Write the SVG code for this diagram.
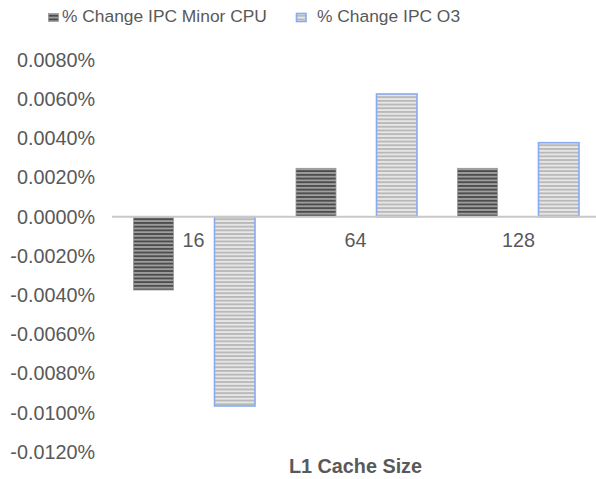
<svg xmlns="http://www.w3.org/2000/svg" width="596" height="479" viewBox="0 0 596 479">
  <defs>
    <!-- narrow horizontal stripes for the two series -->
    <pattern id="stripeDark" patternUnits="userSpaceOnUse" width="8" height="3.7">
      <rect width="8" height="3.7" fill="#a0a0a0"/>
      <rect width="8" height="1.9" fill="#4d4d4d"/>
    </pattern>
    <pattern id="stripeLight" patternUnits="userSpaceOnUse" width="8" height="3.7">
      <rect width="8" height="3.7" fill="#e8e8e8"/>
      <rect width="8" height="1.9" fill="#b9b9b9"/>
    </pattern>
  </defs>
  <style>
    text { font-family: "Liberation Sans", Arial, Helvetica, sans-serif; fill: #595959; font-size: 19.8px; }
    .legend-label { font-size: 17.4px; }
    .tick { text-anchor: end; }
    .cat { text-anchor: middle; }
    .title { text-anchor: middle; font-weight: bold; }
    .minor { fill: url(#stripeDark); stroke: #9a9a9a; stroke-width: 0.8; }
    .o3 { fill: url(#stripeLight); stroke: #86acef; stroke-width: 1.6; }
    .axis { stroke: #c9c9c9; stroke-width: 2; }
  </style>

  <!-- legend -->
  <g id="legend">
    <rect class="minor" x="48.5" y="13.5" width="10" height="8"/>
    <text class="legend-label" x="62" y="22">% Change IPC Minor CPU</text>
    <rect class="o3" x="296.5" y="13.5" width="9.5" height="8"/>
    <text class="legend-label" x="317" y="22">% Change IPC O3</text>
  </g>

  <!-- value axis labels -->
  <g id="y-axis">
    <text class="tick" x="95" y="66.5">0.0080%</text>
    <text class="tick" x="95" y="105.7">0.0060%</text>
    <text class="tick" x="95" y="144.9">0.0040%</text>
    <text class="tick" x="95" y="184.1">0.0020%</text>
    <text class="tick" x="95" y="223.5">0.0000%</text>
    <text class="tick" x="95" y="262.7">-0.0020%</text>
    <text class="tick" x="95" y="301.9">-0.0040%</text>
    <text class="tick" x="95" y="341.1">-0.0060%</text>
    <text class="tick" x="95" y="380.3">-0.0080%</text>
    <text class="tick" x="95" y="419.5">-0.0100%</text>
    <text class="tick" x="95" y="458.7">-0.0120%</text>
  </g>

  <!-- bars: Minor CPU -->
  <g id="series-minor">
    <rect class="minor" x="133.5" y="216.7" width="40" height="73.3"/>
    <rect class="minor" x="296" y="168.3" width="40" height="48.4"/>
    <rect class="minor" x="457.5" y="168.3" width="40" height="48.4"/>
  </g>

  <!-- bars: O3 -->
  <g id="series-o3">
    <rect class="o3" x="214.5" y="216.7" width="40.5" height="189.3"/>
    <rect class="o3" x="376.5" y="94" width="40.5" height="122.7"/>
    <rect class="o3" x="538.5" y="142.7" width="40.5" height="74"/>
  </g>

  <!-- category axis -->
  <g id="x-axis">
    <line class="axis" x1="112" y1="216.7" x2="596" y2="216.7"/>
    <text class="cat" x="193.5" y="247">16</text>
    <text class="cat" x="355.5" y="247">64</text>
    <text class="cat" x="518.5" y="247">128</text>
    <text class="title" x="355.5" y="473">L1 Cache Size</text>
  </g>
</svg>
